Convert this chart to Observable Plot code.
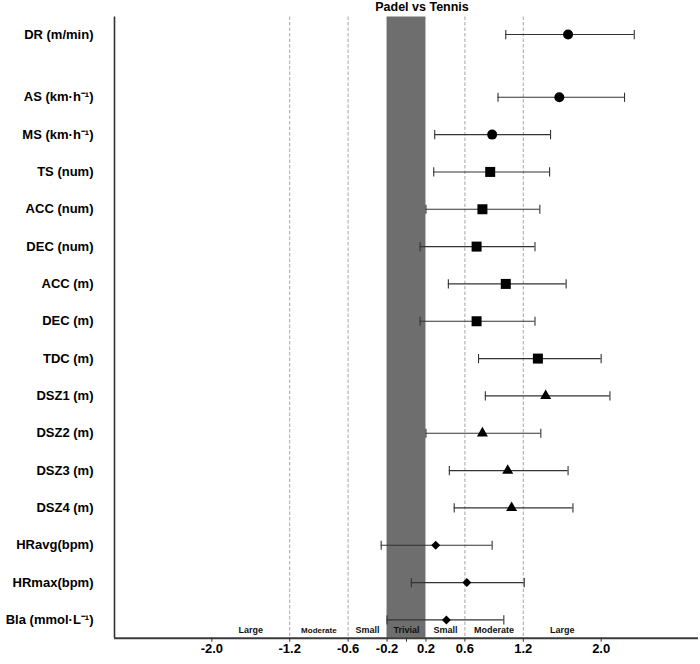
<!DOCTYPE html>
<html>
<head>
<meta charset="utf-8">
<script src="https://cdn.jsdelivr.net/npm/d3@7"></script>
<script src="https://cdn.jsdelivr.net/npm/@observablehq/plot@0.6"></script>
<style>
  html, body { margin: 0; padding: 0; background: #fff; }
  body { font-family: "Liberation Sans", Arial, sans-serif; width: 700px; height: 664px; overflow: hidden; }
  .title { width: 200px; margin-left: 322px; height: 14px; line-height: 14px; text-align: center; font-size: 12.5px; font-weight: bold; color: #000; }
</style>
</head>
<body>
<div class="title">Padel vs Tennis</div>
<div id="chart"></div>
<script>
// Effect sizes (Padel vs Tennis) with 90% confidence limits, top row first
const variables = ["DR (m/min)", "AS (km·h⁻¹)", "MS (km·h⁻¹)", "TS (num)", "ACC (num)", "DEC (num)",
  "ACC (m)", "DEC (m)", "TDC (m)", "DSZ1 (m)", "DSZ2 (m)", "DSZ3 (m)", "DSZ4 (m)",
  "HRavg(bpm)", "HRmax(bpm)", "Bla (mmol·L⁻¹)"];
const effect = [1.66, 1.57, 0.88, 0.86, 0.78, 0.72, 1.02, 0.72, 1.35, 1.43, 0.78, 1.04, 1.08, 0.30, 0.62, 0.41];
const lower  = [1.02, 0.94, 0.29, 0.28, 0.20, 0.14, 0.43, 0.14, 0.74, 0.81, 0.20, 0.44, 0.49, -0.26, 0.05, -0.20];
const upper  = [2.34, 2.24, 1.48, 1.47, 1.37, 1.32, 1.64, 1.32, 2.00, 2.09, 1.38, 1.66, 1.71, 0.88, 1.21, 1.00];
const shapes = ["circle", "circle", "circle", "square", "square", "square", "square", "square", "square",
  "triangle", "triangle", "triangle", "triangle", "diamond2", "diamond2", "diamond2"];

// Magnitude thresholds and the zone names between them
const zoneBounds = [-2.0, -1.2, -0.6, -0.2, 0.2, 0.6, 1.2, 2.0];
const zoneNames = ["Large", "Moderate", "Small", "Trivial", "Small", "Moderate", "Large"];
const tickValues = [-2.0, -1.2, -0.6, -0.2, 0, 0.2, 0.6, 1.2, 2.0];

// Row layout: one unit per row, with extra space below the first row
const leadGap = 0.68;
const n = variables.length;
const rows = variables.map((label, i) => ({
  label,
  pos: (n - 1 - i) + (i === 0 ? leadGap : 0),
  es: effect[i], lo: lower[i], hi: upper[i], shape: shapes[i]
}));
const zones = zoneNames.map((name, i) => ({
  name, mid: (zoneBounds[i] + zoneBounds[i + 1]) / 2
}));
const yDomain = [-0.49, n - 1 + leadGap + 0.47];
const xDomain = [-3, 3];

// Vertical cap for the error bars
const capSymbol = {
  draw(context, size) {
    const h = Math.sqrt(size / Math.PI);
    context.moveTo(0, -h);
    context.lineTo(0, h);
  }
};

const shapeR = {circle: 5, square: 5.64, triangle: 4.1, diamond2: 4.05};
const shapeMarks = Object.keys(shapeR).map(s =>
  Plot.dot(rows.filter(d => d.shape === s), {x: "es", y: "pos", symbol: s, r: shapeR[s], fill: "#000", stroke: "none"})
);

const chart = Plot.plot({
  width: 700,
  height: 650,
  marginLeft: 114,
  marginRight: 2,
  marginTop: 2.5,
  marginBottom: 26.3,
  style: {fontFamily: "'Liberation Sans', Arial, sans-serif", background: "#fff", color: "#000"},
  x: {domain: xDomain},
  y: {domain: yDomain, axis: null},
  marks: [
    // trivial zone
    Plot.rect([{x1: zoneBounds[3], x2: zoneBounds[4]}], {x1: "x1", x2: "x2", fill: "#6e6e6e"}),
    // small / moderate / large thresholds
    Plot.ruleX(zoneBounds.filter(b => Math.abs(b) > 0.3 && Math.abs(b) < 1.5), {stroke: "#8f8f8f", strokeWidth: 0.8, strokeDasharray: "3.5,2"}),
    // confidence intervals
    Plot.ruleY(rows, {x1: "lo", x2: "hi", y: "pos", stroke: "#333", strokeWidth: 1.1}),
    Plot.dot(rows, {x: "lo", y: "pos", symbol: capSymbol, r: 4.6, stroke: "#333", strokeWidth: 1.1}),
    Plot.dot(rows, {x: "hi", y: "pos", symbol: capSymbol, r: 4.6, stroke: "#333", strokeWidth: 1.1}),
    ...shapeMarks,
    // variable labels
    Plot.text(rows, {y: "pos", text: "label", frameAnchor: "left", textAnchor: "end", dx: -21,
      fontSize: 13, fontWeight: "bold", fill: "#000"}),
    // zone names along the bottom
    Plot.text(zones, {x: "mid", text: "name", frameAnchor: "bottom", dy: -5.5, fontWeight: "bold", fill: "#111",
      fontSize: d => (d.name === "Moderate" && d.mid < 0 ? 8 : 9)}),
    // axes lines
    Plot.ruleX([xDomain[0]], {stroke: "#333", strokeWidth: 1.6}),
    Plot.ruleY([yDomain[0]], {stroke: "#3a3a3a", strokeWidth: 2}),
    Plot.axisX({ticks: tickValues, tickFormat: () => "", tickSize: 4, stroke: "#333", label: null}),
    // tick labels (zero is left unlabelled)
    Plot.text(tickValues.filter(t => t !== 0), {x: d => d, text: d => d.toFixed(1), frameAnchor: "bottom", dy: 15,
      fontSize: 13, fontWeight: "bold", fill: "#000"})
  ]
});
document.getElementById("chart").appendChild(chart);
</script>
</body>
</html>
